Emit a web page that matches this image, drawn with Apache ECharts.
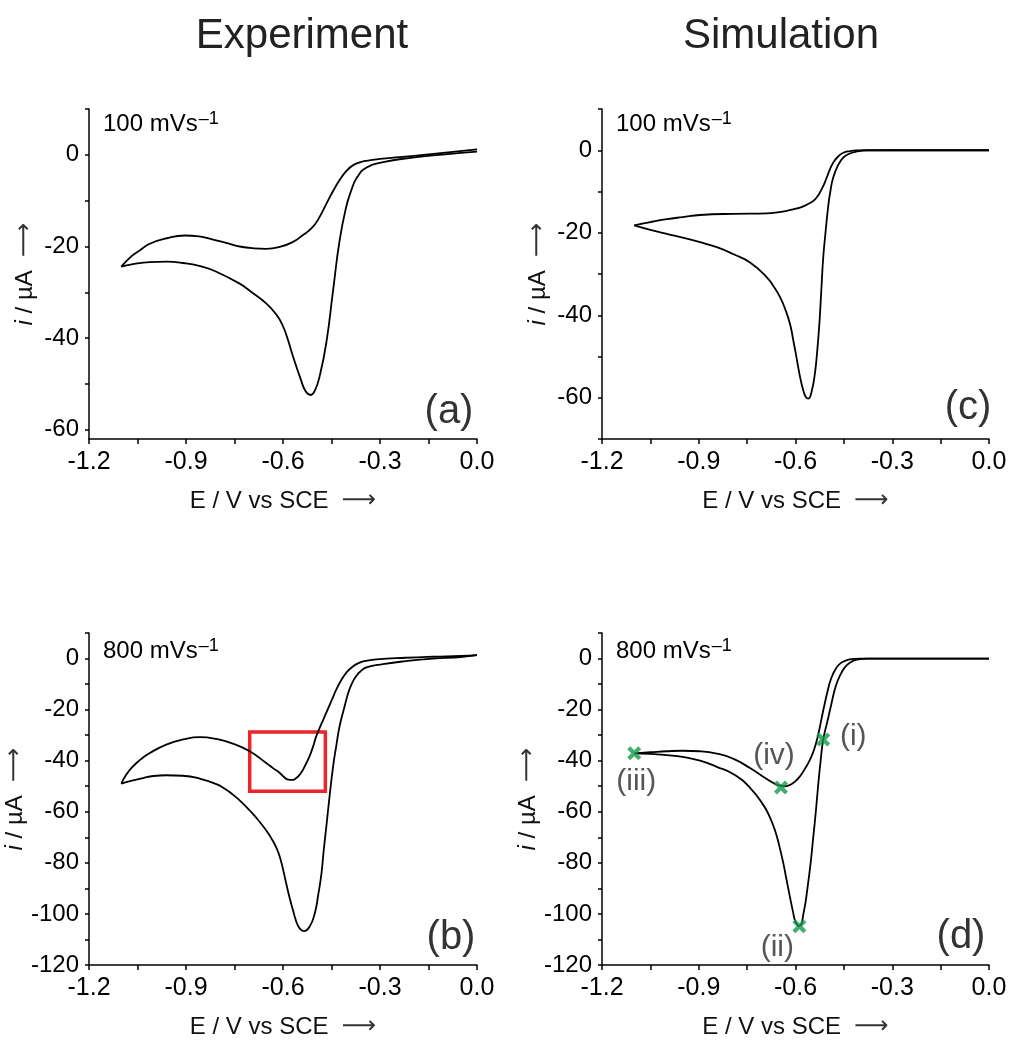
<!DOCTYPE html>
<html>
<head>
<meta charset="utf-8">
<script src="https://cdn.jsdelivr.net/npm/echarts@6/dist/echarts.min.js"></script>
<style>
html,body{margin:0;padding:0;background:#fff;}
#chart{width:1011px;height:1040px;}
</style>
</head>
<body>
<div id="chart"></div>
<script>
// ---------- DATA ----------
const columnTitles = ['Experiment', 'Simulation'];
const panelLabels = ['(a)', '(c)', '(b)', '(d)'];
const scanRateLabels = ['100 mVs', '100 mVs', '800 mVs', '800 mVs'];
const eTickLabels = [-1.2, -0.9, -0.6, -0.3, 0.0];
const eMinorTicks = [-1.2, -1.05, -0.9, -0.75, -0.6, -0.45, -0.3, -0.15, 0.0];
const yMinA = -62, yMinC = -70, yMinB = -120, yMinD = -120;
const yLabelsTop = [0, -20, -40, -60];
const yLabelsBottom = [0, -20, -40, -60, -80, -100, -120];

// (a) experiment 100 mV/s : forward (0 -> -1.1) and reverse (-1.1 -> 0) scans
const aForward = [[0,0.7],[-0.1,0.1],[-0.2,-0.6],[-0.29,-1.6],[-0.34,-2.7],[-0.37,-4.8],[-0.39,-8],[-0.405,-11.5],[-0.425,-18.7],[-0.445,-29.5],[-0.466,-41],[-0.487,-48.4],[-0.502,-51.5],[-0.515,-52.4],[-0.53,-51.6],[-0.545,-49],[-0.569,-44],[-0.585,-40.3],[-0.6,-37.4],[-0.62,-34.9],[-0.652,-32.4],[-0.7,-29.8],[-0.734,-28.1],[-0.806,-25.5],[-0.85,-24.4],[-0.909,-23.6],[-0.96,-23.3],[-1.012,-23.4],[-1.06,-23.8],[-1.1,-24.4]];
const aReverse = [[-1.1,-24.4],[-1.07,-22.2],[-1.04,-20.7],[-1.012,-19.4],[-0.96,-18.2],[-0.904,-17.6],[-0.86,-17.8],[-0.816,-18.5],[-0.77,-19.3],[-0.734,-20.0],[-0.69,-20.4],[-0.652,-20.5],[-0.61,-20.1],[-0.569,-19.0],[-0.54,-17.6],[-0.51,-15.9],[-0.488,-13.7],[-0.466,-10.7],[-0.445,-7.9],[-0.425,-5.5],[-0.405,-3.6],[-0.384,-2.3],[-0.36,-1.6],[-0.342,-1.3],[-0.3,-0.9],[-0.239,-0.5],[-0.15,0.1],[0,1.2]];

// (c) simulation 100 mV/s
const cForward = [[0,0],[-0.2,0],[-0.38,0],[-0.41,-0.3],[-0.435,-0.9],[-0.452,-1.8],[-0.468,-3.6],[-0.483,-6.6],[-0.492,-10],[-0.499,-13.9],[-0.507,-20],[-0.514,-26],[-0.52,-34],[-0.526,-42.1],[-0.533,-49],[-0.54,-54.2],[-0.55,-58.5],[-0.56,-60.2],[-0.568,-59.8],[-0.576,-58.2],[-0.587,-54.5],[-0.597,-50.2],[-0.607,-46],[-0.617,-42.1],[-0.632,-38.5],[-0.648,-35.6],[-0.668,-33],[-0.689,-30.8],[-0.741,-27.2],[-0.792,-25.2],[-0.844,-23.5],[-0.896,-22.3],[-0.95,-21.2],[-0.999,-20.3],[-1.05,-19.3],[-1.1,-18.2]];
const cReverse = [[-1.1,-18.2],[-1.05,-17.4],[-0.999,-16.7],[-0.95,-16.2],[-0.896,-15.7],[-0.792,-15.4],[-0.689,-15.3],[-0.65,-15.0],[-0.627,-14.7],[-0.605,-14.3],[-0.586,-13.9],[-0.565,-13.2],[-0.545,-12.3],[-0.534,-11.4],[-0.524,-10.2],[-0.513,-8.5],[-0.503,-6.6],[-0.493,-4.6],[-0.483,-3.0],[-0.47,-1.7],[-0.452,-0.6],[-0.43,-0.2],[-0.41,-0.05],[-0.3,0],[0,0]];

// (b) experiment 800 mV/s
const bForward = [[0,1.3],[-0.05,0.6],[-0.136,0],[-0.22,-1],[-0.291,-2.2],[-0.342,-3.5],[-0.36,-5],[-0.373,-6.8],[-0.386,-9.5],[-0.398,-13.4],[-0.41,-19],[-0.425,-26.5],[-0.435,-34],[-0.445,-42.2],[-0.456,-54],[-0.466,-65.8],[-0.474,-75],[-0.481,-84.1],[-0.491,-92.5],[-0.502,-99.9],[-0.518,-105],[-0.536,-106.7],[-0.546,-106],[-0.554,-104.5],[-0.562,-101.8],[-0.569,-98.6],[-0.58,-93.5],[-0.59,-88.1],[-0.6,-82.5],[-0.61,-77.6],[-0.62,-74.2],[-0.635,-70.6],[-0.652,-67.3],[-0.675,-63.5],[-0.703,-59.5],[-0.73,-56],[-0.755,-53.3],[-0.78,-51],[-0.806,-49.2],[-0.858,-47],[-0.91,-45.9],[-0.961,-45.7],[-1.0,-46.0],[-1.033,-46.8],[-1.07,-47.9],[-1.1,-49]];
const bReverse = [[-1.1,-49],[-1.085,-45.5],[-1.064,-42.2],[-1.04,-39.5],[-1.012,-37],[-0.961,-33.7],[-0.909,-31.7],[-0.858,-30.8],[-0.806,-31.5],[-0.755,-33.3],[-0.703,-36.3],[-0.652,-40.9],[-0.63,-43],[-0.61,-44.8],[-0.596,-46.5],[-0.584,-47.4],[-0.57,-47.5],[-0.559,-46.8],[-0.548,-45.4],[-0.538,-43.5],[-0.528,-41],[-0.518,-38.3],[-0.507,-34.5],[-0.497,-30.4],[-0.482,-25.8],[-0.466,-21.2],[-0.45,-16.5],[-0.435,-12.1],[-0.42,-8.5],[-0.404,-5.5],[-0.385,-3.2],[-0.363,-1.6],[-0.34,-0.8],[-0.311,-0.3],[-0.22,0.3],[-0.136,0.7],[-0.05,1.0],[0,1.3]];
const bBoxCorners = [[-0.703,-28.8],[-0.469,-52]];

// (d) simulation 800 mV/s
const dForward = [[0,0],[-0.38,0],[-0.4,-0.2],[-0.42,-0.8],[-0.44,-2.5],[-0.455,-5],[-0.47,-9],[-0.48,-13],[-0.49,-18.5],[-0.5,-24],[-0.514,-31.7],[-0.522,-40],[-0.53,-50],[-0.537,-60],[-0.545,-70],[-0.553,-80],[-0.563,-90],[-0.574,-99],[-0.588,-104.8],[-0.6,-103],[-0.608,-99],[-0.617,-93.5],[-0.628,-86.5],[-0.638,-80],[-0.65,-73.5],[-0.663,-67.5],[-0.68,-62],[-0.7,-57.3],[-0.741,-50.6],[-0.792,-45.3],[-0.844,-42.4],[-0.896,-40],[-0.95,-38.5],[-0.999,-37.8],[-1.05,-37.3],[-1.1,-37.1]];
const dReverse = [[-1.1,-37.1],[-1.05,-36.7],[-0.999,-36.3],[-0.95,-36.1],[-0.896,-36.3],[-0.844,-37.2],[-0.792,-39.3],[-0.741,-42.9],[-0.689,-47.2],[-0.665,-49],[-0.648,-49.8],[-0.632,-50],[-0.617,-49.5],[-0.6,-48],[-0.586,-46.1],[-0.57,-43],[-0.555,-39.6],[-0.542,-35.5],[-0.53,-30],[-0.52,-24],[-0.51,-18],[-0.5,-12.5],[-0.49,-8],[-0.475,-4],[-0.46,-1.8],[-0.44,-0.6],[-0.42,-0.15],[-0.4,0],[0,0]];
const markerNames = ['(i)', '(ii)', '(iii)', '(iv)'];
const markerE = [-0.514, -0.588, -1.1, -0.645];
const markerI = [-31.7, -104.8, -37.1, -50.5];

// ---------- BUILD ----------
const FONT = '"Liberation Sans", Arial, Helvetica, sans-serif';
const ARROW_FONT = '"DejaVu Sans", sans-serif';
const grids = [
  {left: 89, top: 109, width: 388, height: 330},
  {left: 602, top: 109, width: 387, height: 330},
  {left: 89, top: 633, width: 388, height: 332},
  {left: 602, top: 633, width: 387, height: 332}
];
const yMins = [yMinA, yMinC, yMinB, yMinD];
function range(from, to, step) { const r = []; for (let v = from; v >= to - 1e-9; v -= step) r.push(Math.round(v)); return r; }

const xAxes = grids.map((g, i) => ({
  type: 'value', gridIndex: i, min: -1.2, max: 0,
  name: 'E / V vs SCE  {arr|⟶}', nameLocation: 'middle', nameGap: 50,
  nameTextStyle: {fontFamily: FONT, fontSize: 24, color: '#111',
    rich: {arr: {fontFamily: ARROW_FONT, fontSize: 24, color: '#333'}}},
  axisLine: {onZero: false, lineStyle: {color: '#000', width: 1.5}},
  axisTick: {show: true, inside: false, length: 5, customValues: eMinorTicks, lineStyle: {color: '#000', width: 1.5}},
  axisLabel: {customValues: eTickLabels, formatter: v => v.toFixed(1), fontFamily: FONT, fontSize: 25, color: '#000', margin: 11},
  splitLine: {show: false}
}));
const yAxes = grids.map((g, i) => ({
  type: 'value', gridIndex: i, min: yMins[i], max: 10,
  name: '{it|i} / µA  {arr|⟶}', nameLocation: 'middle', nameRotate: 90, nameGap: 52,
  nameTextStyle: {fontFamily: FONT, fontSize: 24, color: '#111',
    rich: {it: {fontStyle: 'italic', fontFamily: FONT, fontSize: 24, color: '#111'},
           arr: {fontFamily: ARROW_FONT, fontSize: 24, color: '#333'}}},
  axisLine: {onZero: false, lineStyle: {color: '#000', width: 1.5}},
  axisTick: {show: true, inside: false, length: 4, customValues: range(10, yMins[i], 10), lineStyle: {color: '#000', width: 1.5}},
  axisLabel: {customValues: i < 2 ? yLabelsTop : yLabelsBottom, fontFamily: FONT, fontSize: 24, color: '#000', margin: 10},
  splitLine: {show: false}
}));

function curve(data, idx, extra) {
  return Object.assign({
    type: 'line', xAxisIndex: idx, yAxisIndex: idx, data: data,
    showSymbol: false, symbol: 'none', smooth: 0.5,
    lineStyle: {color: '#000', width: 1.8}, silent: true, z: 3
  }, extra || {});
}

const labelOffsets = [[30, -3], [-22, 22], [2, 28], [-7, -32]];
const markerData = markerNames.map((n, k) => ({
  name: n, value: [markerE[k], markerI[k]],
  label: {show: true, position: 'inside', offset: labelOffsets[k], formatter: '{b}',
          fontFamily: FONT, fontSize: 30, color: '#2a2a2a', align: 'center', verticalAlign: 'middle'}
}));

const series = [
  curve(aForward, 0), curve(aReverse, 0),
  curve(cForward, 1), curve(cReverse, 1),
  curve(bForward, 2, {markArea: {silent: true, itemStyle: {color: 'rgba(0,0,0,0)', borderColor: '#e8262b', borderWidth: 3.5},
      data: [[{coord: bBoxCorners[0]}, {coord: bBoxCorners[1]}]]}}),
  curve(bReverse, 2),
  curve(dForward, 3), curve(dReverse, 3),
  {type: 'scatter', xAxisIndex: 3, yAxisIndex: 3, data: markerData, z: 5,
   symbol: 'path://M3,0 L7,4 L11,0 L14,3 L10,7 L14,11 L11,14 L7,10 L3,14 L0,11 L4,7 L0,3 Z',
   symbolSize: 14, itemStyle: {color: '#159a4c'}, silent: true}
];

const sup = {n: {fontFamily: FONT, fontSize: 24, color: '#000', verticalAlign: 'bottom', lineHeight: 26},
             s: {fontFamily: FONT, fontSize: 18, color: '#000', verticalAlign: 'top', lineHeight: 18, padding: [0, 0, 16, 1]}};
const rateLeft = [103, 616, 103, 616];
const rateTop = [110, 110, 637, 637];
const panelLabelPos = [[449, 412], [968, 408], [451, 938], [961, 937]];
const graphic = [];
columnTitles.forEach((t, k) => graphic.push({type: 'text', x: k === 0 ? 302 : 781, y: 15,
  style: {text: t, font: '42px ' + FONT, fill: '#222', align: 'center', verticalAlign: 'top'}}));
panelLabels.forEach((t, k) => graphic.push({type: 'text', x: panelLabelPos[k][0], y: panelLabelPos[k][1],
  style: {text: t, font: '40px ' + FONT, fill: '#333', align: 'center', verticalAlign: 'middle'}}));
scanRateLabels.forEach((t, k) => graphic.push({type: 'text', x: rateLeft[k], y: rateTop[k],
  style: {text: '{n|' + t + '}{s|–1}', rich: sup, align: 'left', verticalAlign: 'top'}}));

const chart = echarts.init(document.getElementById('chart'), null, {renderer: 'canvas'});
chart.setOption({
  animation: false,
  backgroundColor: '#fff',
  grid: grids,
  xAxis: xAxes,
  yAxis: yAxes,
  series: series,
  graphic: graphic
});
</script>
</body>
</html>
